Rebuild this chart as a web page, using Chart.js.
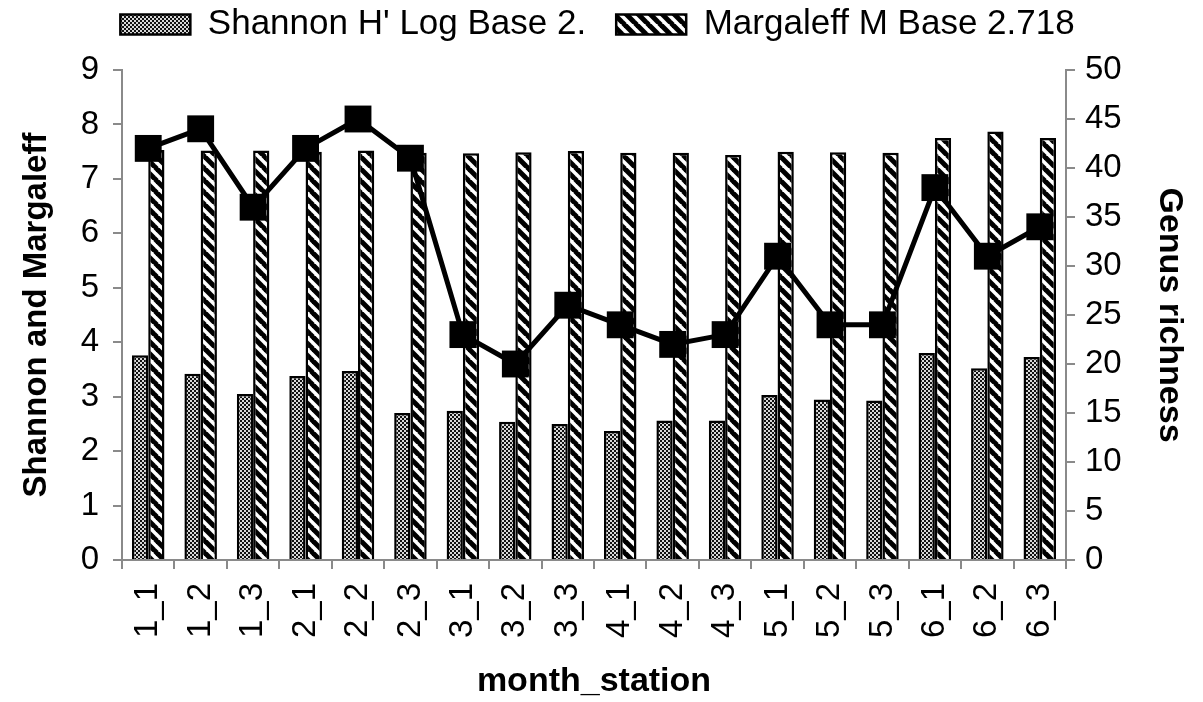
<!DOCTYPE html>
<html>
<head>
<meta charset="utf-8">
<title>Shannon, Margaleff and genus richness</title>
<script src="https://cdn.jsdelivr.net/npm/chart.js@4/dist/chart.umd.min.js"></script>
<style>
    html, body { margin: 0; padding: 0; background: #fff; }
    #wrap { width: 1203px; height: 702px; }
</style>
</head>
<body>
<div id="wrap"><canvas id="divChart"></canvas></div>
<script>
'use strict';

// x categories (month_station)
const stations = ['1_1', '1_2', '1_3', '2_1', '2_2', '2_3', '3_1', '3_2', '3_3',
    '4_1', '4_2', '4_3', '5_1', '5_2', '5_3', '6_1', '6_2', '6_3'];
// Shannon H' (log base 2)
const shannon = [3.76, 3.42, 3.05, 3.38, 3.47, 2.70, 2.74, 2.54, 2.50,
    2.37, 2.56, 2.56, 3.03, 2.95, 2.93, 3.80, 3.52, 3.73];
// Margaleff M (base e)
const margaleff = [7.53, 7.52, 7.52, 7.50, 7.52, 7.48, 7.47, 7.49, 7.51,
    7.48, 7.48, 7.44, 7.50, 7.49, 7.48, 7.75, 7.87, 7.75];
// genus richness (right axis)
const richness = [42, 44, 36, 42, 45, 41, 23, 20, 26, 24, 22, 23, 31, 24, 24, 38, 31, 34];
// tick ranges
const leftMax = 9;
const leftStep = 1;
const rightMax = 50;
const rightStep = 5;

const FONT = "'Liberation Sans', Arial, sans-serif";
const AXIS_GREY = '#8a8a8a';

/**
 * fine checker pattern for the Shannon bars
 */
function makeCheckerPattern() {
    const c = document.createElement('canvas');
    c.width = 4;
    c.height = 4;
    const g = c.getContext('2d');
    g.fillStyle = '#d8d8d8';
    g.fillRect(0, 0, 4, 4);
    g.fillStyle = '#111';
    g.fillRect(0, 0, 2, 2);
    g.fillRect(2, 2, 2, 2);
    return g.createPattern(c, 'repeat');
}

/**
 * "\" hatch pattern for the Margaleff bars
 */
function makeHatchPattern() {
    const s = 12;
    const c = document.createElement('canvas');
    c.width = s;
    c.height = s;
    const g = c.getContext('2d');
    g.fillStyle = '#fff';
    g.fillRect(0, 0, s, s);
    g.strokeStyle = '#000';
    g.lineWidth = 5;
    for (let k = -1; k <= 1; k++) {
        g.beginPath();
        g.moveTo(k * s - 1, -1);
        g.lineTo(k * s + s + 1, s + 1);
        g.stroke();
    }
    return g.createPattern(c, 'repeat');
}

const checker = makeCheckerPattern();
const hatch = makeHatchPattern();

// extra room under the legend, the plot starts well below it
const legendGap = {
    id: 'legendGap',
    afterInit(chart) {
        const fit = chart.legend.fit;
        chart.legend.fit = function () {
            fit.call(this);
            this.height = 93;
        };
    }
};

const ctx = document.getElementById('divChart');
new Chart(ctx, {
    type: 'bar',
    data: {
        labels: stations,
        datasets: [
            {
                type: 'line',
                label: 'Genus richness',
                data: richness,
                yAxisID: 'yRight',
                borderColor: '#000',
                borderWidth: 5,
                backgroundColor: '#000',
                pointStyle: 'rect',
                pointRadius: 19,
                pointBorderWidth: 0,
                pointBackgroundColor: '#000',
                tension: 0,
                order: 0
            },
            {
                label: "Shannon H' Log Base 2.",
                data: shannon,
                yAxisID: 'yLeft',
                backgroundColor: checker,
                borderColor: '#000',
                borderWidth: 2.5,
                borderSkipped: 'bottom',
                order: 1
            },
            {
                label: 'Margaleff M Base 2.718',
                data: margaleff,
                yAxisID: 'yLeft',
                backgroundColor: hatch,
                borderColor: '#000',
                borderWidth: 2.5,
                borderSkipped: 'bottom',
                order: 1
            }
        ]
    },
    plugins: [legendGap],
    options: {
        responsive: true,
        maintainAspectRatio: false,
        animation: false,
        devicePixelRatio: 1,
        layout: {
            padding: { top: -23, right: 8, left: 0, bottom: 0 }
        },
        datasets: {
            bar: {
                categoryPercentage: 0.62,
                barPercentage: 1.0
            }
        },
        plugins: {
            tooltip: { enabled: false },
            legend: {
                position: 'top',
                labels: {
                    font: { family: FONT, size: 35 },
                    color: '#000',
                    boxWidth: 70,
                    boxHeight: 20,
                    padding: 30,
                    filter: item => item.text !== 'Genus richness'
                }
            }
        },
        scales: {
            x: {
                offset: true,
                grid: {
                    offset: true,
                    drawOnChartArea: false,
                    drawTicks: true,
                    tickLength: 9,
                    color: AXIS_GREY,
                    lineWidth: 2
                },
                border: { color: AXIS_GREY, width: 2 },
                ticks: {
                    font: { family: FONT, size: 33 },
                    color: '#000',
                    minRotation: 90,
                    maxRotation: 90,
                    autoSkip: false,
                    padding: 14
                },
                title: {
                    display: true,
                    text: 'month_station',
                    font: { family: FONT, size: 34, weight: 'bold' },
                    color: '#000',
                    padding: { top: 0, bottom: 0 }
                },
                afterFit: scale => { scale.height = 142; }
            },
            yLeft: {
                position: 'left',
                min: 0,
                max: leftMax,
                ticks: {
                    stepSize: leftStep,
                    font: { family: FONT, size: 33 },
                    color: '#000',
                    padding: 14
                },
                grid: {
                    drawOnChartArea: false,
                    tickLength: 9,
                    color: AXIS_GREY,
                    lineWidth: 2
                },
                border: { color: AXIS_GREY, width: 2 },
                title: {
                    display: true,
                    text: 'Shannon and Margaleff',
                    font: { family: FONT, size: 33, weight: 'bold' },
                    color: '#000',
                    padding: { top: 17, bottom: 0 }
                },
                afterFit: scale => { scale.width = 122; }
            },
            yRight: {
                position: 'right',
                min: 0,
                max: rightMax,
                ticks: {
                    stepSize: rightStep,
                    font: { family: FONT, size: 33 },
                    color: '#000',
                    padding: 10
                },
                grid: {
                    drawOnChartArea: false,
                    tickLength: 9,
                    color: AXIS_GREY,
                    lineWidth: 2
                },
                border: { color: AXIS_GREY, width: 2 },
                title: {
                    display: true,
                    text: 'Genus richness',
                    font: { family: FONT, size: 34, weight: 'bold' },
                    color: '#000',
                    padding: { top: 5, bottom: 0 }
                },
                afterFit: scale => { scale.width = 129; }
            }
        }
    }
});
</script>
</body>
</html>
